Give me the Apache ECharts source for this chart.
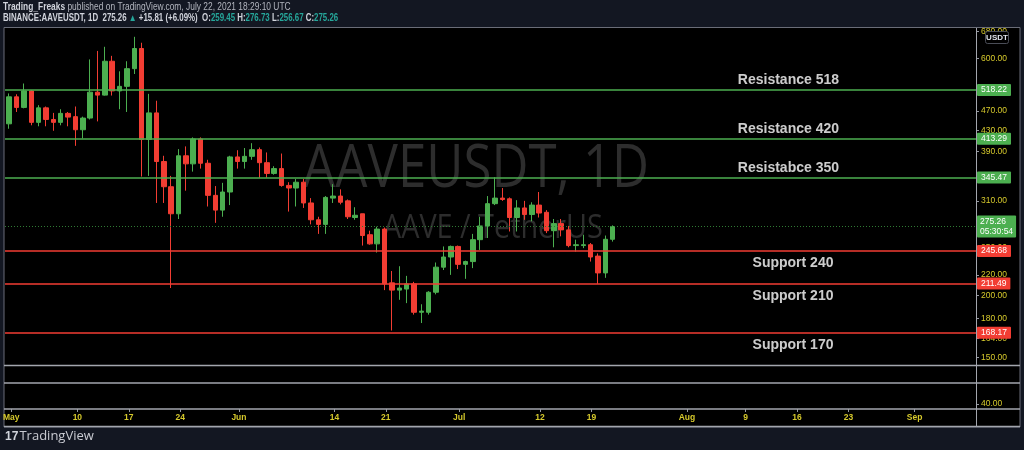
<!DOCTYPE html>
<html><head><meta charset="utf-8">
<script src="https://cdn.jsdelivr.net/npm/echarts@6/dist/echarts.min.js"></script>
<style>html,body{margin:0;padding:0;background:#131722;}#c{width:1024px;height:450px;}</style>
</head><body><div id="c"></div>
<script>
// ---- data (daily candles, BINANCE:AAVEUSDT 1D) ----
const dates = ['2021-05-01','2021-05-02','2021-05-03','2021-05-04','2021-05-05','2021-05-06','2021-05-07','2021-05-08','2021-05-09','2021-05-10',
'2021-05-11','2021-05-12','2021-05-13','2021-05-14','2021-05-15','2021-05-16','2021-05-17','2021-05-18','2021-05-19','2021-05-20',
'2021-05-21','2021-05-22','2021-05-23','2021-05-24','2021-05-25','2021-05-26','2021-05-27','2021-05-28','2021-05-29','2021-05-30',
'2021-05-31','2021-06-01','2021-06-02','2021-06-03','2021-06-04','2021-06-05','2021-06-06','2021-06-07','2021-06-08','2021-06-09',
'2021-06-10','2021-06-11','2021-06-12','2021-06-13','2021-06-14','2021-06-15','2021-06-16','2021-06-17','2021-06-18','2021-06-19',
'2021-06-20','2021-06-21','2021-06-22','2021-06-23','2021-06-24','2021-06-25','2021-06-26','2021-06-27','2021-06-28','2021-06-29',
'2021-06-30','2021-07-01','2021-07-02','2021-07-03','2021-07-04','2021-07-05','2021-07-06','2021-07-07','2021-07-08','2021-07-09',
'2021-07-10','2021-07-11','2021-07-12','2021-07-13','2021-07-14','2021-07-15','2021-07-16','2021-07-17','2021-07-18','2021-07-19',
'2021-07-20','2021-07-21','2021-07-22'];
const opens = [443,502,478,516,446,477,452,446,465,458, 431,455,513,506,592,516,527,572,628,412, 466,372,331,292,382,368,413,369,318,297,
323,380,372,381,393,370,352,360,333,329, 338,307,284,278,314,317,310,287,292,265, 254,272,212,205,206,211,185,185,203,228,
239,251,231,234,259,276,306,314,313,287, 300,291,304,294,270,279,271,252,252,253, 240,222,259.45];
const closes = [502,478,516,446,477,452,446,465,457,431, 455,513,506,592,516,527,572,628,412,466, 372,331,292,382,368,413,369,318,297,323,
380,372,381,393,370,352,360,333,329,338, 307,284,278,315,317,308,288,290,264,254, 272,211,205,207,211,185,186,203,228,239,
251,231,234,259,276,306,314,312,287,300, 291,304,293,270,279,271,252,253,253,239, 222,259.45,275.26];
const highs = [510,508,534,518,483,480,466,474,468,480, 458,597,621,633,607,565,592,663,645,509, 493,382,348,394,399,416,416,375,332,337,
382,392,396,405,397,388,364,386,338,343, 343,314,288,317,335,327,312,301,292,270, 275,274,224,229,219,213,192,204,233,251,
252,252,235,266,288,317,346,329,315,311, 310,308,323,297,285,285,276,259,265,255, 243,264,276.73];
const lows = [433,468,476,440,438,438,429,440,438,400, 414,452,448,505,505,474,468,558,347,348, 307,307,207,285,325,355,360,302,280,288,
304,360,360,375,345,345,350,331,295,302, 300,278,266,266,307,305,285,284,252,253, 244,205,170,196,193,183,176,183,201,225,
220,226,216,227,247,261,304,310,269,269, 284,282,287,267,250,263,250,245,249,234, 211,217,256.67];

const resistanceLevels = [518.22, 413.29, 345.47];
const supportLevels = [245.68, 211.49, 168.17];
const annotationTexts = ['Resistance 518','Resistance 420','Resistabce 350','Support 240','Support 210','Support 170'];
const annotationValues = [518.22, 413.29, 345.47, 245.68, 211.49, 168.17];
const annotationDates = ['2021-08-08','2021-08-08','2021-08-08','2021-08-10','2021-08-10','2021-08-10'];
const lastPrice = 275.26;
const countdown = '05:30:54';
const priceTicks = [680,600,470,430,390,310,250,220,200,180,164,150];
const lowerPaneTicks = [40];
const timeTicks = ['2021-05-01','2021-05-10','2021-05-17','2021-05-24','2021-06-01','2021-06-14','2021-06-21','2021-07-01',
'2021-07-12','2021-07-19','2021-08-01','2021-08-09','2021-08-16','2021-08-23','2021-09-01'];
const monthNames = ['Jan','Feb','Mar','Apr','May','Jun','Jul','Aug','Sep','Oct','Nov','Dec'];

// ---- helpers ----
const t = s => { const p = s.split('-').map(Number); return Date.UTC(p[0], p[1]-1, p[2]); };
const DAY = 86400000;
const xMin = t('2021-05-01') - 0.57 * DAY;
const xMax = t('2021-05-01') + 131.36 * DAY;
const GREEN = '#4caf50', RED = '#f23d33';
const YEL = '#d6c92c';

const candleData = dates.map((d, i) => [t(d), opens[i], closes[i], lows[i], highs[i]]);
const timeLabel = v => { const d = new Date(v); return d.getUTCDate() === 1 ? monthNames[d.getUTCMonth()] : String(d.getUTCDate()); };

const levelLines = [
  ...resistanceLevels.map(v => ({ yAxis: v, lineStyle: { color: GREEN, width: 1.5, type: 'solid' }, label: { backgroundColor: GREEN } })),
  ...supportLevels.map(v => ({ yAxis: v, lineStyle: { color: RED, width: 1.5, type: 'solid' }, label: { backgroundColor: RED } })),
  { yAxis: lastPrice, lineStyle: { color: '#2f7a33', width: 1, type: [1, 2] },
    label: { backgroundColor: GREEN, formatter: lastPrice.toFixed(2) + '\n' + countdown, lineHeight: 10, padding: [1, 3, 1, 3] } }
];

const chart = echarts.init(document.getElementById('c'), null, { renderer: 'canvas' });
chart.setOption({
  backgroundColor: '#131722',
  animation: false,
  grid: [
    { left: 5, top: 28, width: 971, height: 337 },
    { left: 5, top: 383, width: 971, height: 26 }
  ],
  xAxis: [
    { type: 'value', gridIndex: 0, min: xMin, max: xMax, show: false, splitLine: { show: false } },
    { type: 'value', gridIndex: 1, min: xMin, max: xMax, position: 'bottom',
      axisLine: { show: false }, splitLine: { show: false },
      axisTick: { show: true, length: 3, lineStyle: { color: '#9598a1' }, customValues: timeTicks.map(t) },
      axisLabel: { color: YEL, fontSize: 8.5, fontWeight: 'bold', fontFamily: 'Liberation Sans', margin: 4,
        customValues: timeTicks.map(t), formatter: timeLabel, hideOverlap: false } }
  ],
  yAxis: [
    { type: 'log', logBase: 10, gridIndex: 0, position: 'right', min: 144.9, max: 690.6,
      axisLine: { show: false }, splitLine: { show: false },
      axisTick: { show: true, length: 3, lineStyle: { color: '#9598a1' }, customValues: priceTicks },
      axisLabel: { color: YEL, fontSize: 8.5, fontFamily: 'Liberation Sans', margin: 5, customValues: priceTicks,
        formatter: v => Number(v).toFixed(2) } },
    { type: 'value', gridIndex: 1, position: 'right', min: 30, max: 80,
      axisLine: { show: false }, splitLine: { show: false },
      axisTick: { show: true, length: 3, lineStyle: { color: '#9598a1' }, customValues: lowerPaneTicks },
      axisLabel: { color: YEL, fontSize: 8.5, fontFamily: 'Liberation Sans', margin: 5, customValues: lowerPaneTicks,
        formatter: v => Number(v).toFixed(2) } }
  ],
  graphic: [
    { type: 'rect', z: -100, shape: { x: 4, y: 27.5, width: 1016, height: 399.5 },
      style: { fill: '#000', stroke: '#6a6d78', lineWidth: 1 } },
    { type: 'line', z: 100, shape: { x1: 4, y1: 365.5, x2: 1020, y2: 365.5 }, style: { stroke: '#a3a6ae', lineWidth: 1.5 } },
    { type: 'line', z: 100, shape: { x1: 4, y1: 383, x2: 1020, y2: 383 }, style: { stroke: '#a3a6ae', lineWidth: 1.5 } },
    { type: 'line', z: 100, shape: { x1: 4, y1: 409, x2: 1020, y2: 409 }, style: { stroke: '#a3a6ae', lineWidth: 1.5 } },
    { type: 'line', z: 100, shape: { x1: 4, y1: 426.5, x2: 1020, y2: 426.5 }, style: { stroke: '#a3a6ae', lineWidth: 1.5 } },
    { type: 'line', z: 100, shape: { x1: 976.5, y1: 28, x2: 976.5, y2: 427 }, style: { stroke: '#a3a6ae', lineWidth: 1 } },
    { type: 'text', z: -50, x: 303, y: 140, scaleX: 0.85, style: { text: 'AAVEUSDT, 1D', fill: '#2d2d2d', font: '60px "Open Sans"' } },
    { type: 'text', z: -50, x: 383, y: 213, scaleX: 0.9, style: { text: 'AAVE / TetherUS', fill: '#2d2d2d', font: '32px "Open Sans"' } },
    { type: 'rect', z: 200, shape: { x: 985.5, y: 31.5, width: 23, height: 12, r: 2 },
      style: { fill: '#000', stroke: '#4a4d57', lineWidth: 1 } },
    { type: 'text', z: 201, x: 997, y: 37.5, style: { text: 'USDT', fill: '#e0e3eb', font: 'bold 8px "Liberation Sans"', align: 'center', verticalAlign: 'middle' } },
    { type: 'text', z: 10, x: 3, y: 2, scaleX: 0.84, style: {
      text: '{b|Trading_Freaks} published on TradingView.com, July 22, 2021 18:29:10 UTC',
      fill: '#b2b5be', font: '10px "Liberation Sans"',
      rich: { b: { fill: '#d1d4dc', font: 'bold 10px "Liberation Sans"' } } } },
    { type: 'text', z: 10, x: 3, y: 13, scaleX: 0.79, style: {
      text: '{w|BINANCE:AAVEUSDT, 1D  275.26 }{g|▲}{w| +15.81 (+6.09%)  O:}{g|259.45}{w| H:}{g|276.73}{w| L:}{g|256.67}{w| C:}{g|275.26}',
      font: 'bold 10px "Liberation Sans"',
      rich: { w: { fill: '#d1d4dc', font: 'bold 10px "Liberation Sans"' }, g: { fill: '#26a69a', font: 'bold 10px "Liberation Sans"' } } } },
    { type: 'text', z: 10, x: 5, y: 430, style: {
      text: '{l|17}{s| }{t|TradingView}',
      rich: { l: { fill: '#d1d4dc', font: 'bold 12px "Liberation Sans"' }, s: { font: '4px sans-serif' }, t: { fill: '#c9cbd2', font: '13px "Open Sans"' } } } }
  ],
  series: [
    { type: 'candlestick', xAxisIndex: 0, yAxisIndex: 0, barWidth: 5,
      data: candleData,
      itemStyle: { color: GREEN, color0: RED, borderColor: GREEN, borderColor0: RED, borderWidth: 1 },
      markLine: { symbol: 'none', silent: true, animation: false,
        label: { show: true, position: 'end', distance: 1, color: '#fff', fontSize: 8.5, fontFamily: 'Liberation Sans',
          padding: [2, 4, 1, 4], borderRadius: 1, formatter: p => Number(p.value).toFixed(2) },
        data: levelLines } },
    { type: 'scatter', xAxisIndex: 0, yAxisIndex: 0, symbolSize: 1, silent: true,
      itemStyle: { color: 'rgba(0,0,0,0)' },
      data: annotationTexts.map((s, i) => ({ value: [t(annotationDates[i]), annotationValues[i]],
        label: { position: i < 3 ? 'top' : 'bottom', distance: i < 3 ? 2 : 5 } })),
      label: { show: true, align: 'left', color: '#ffffff', fontSize: 14, fontWeight: 'bold', fontFamily: 'Liberation Sans',
        formatter: p => annotationTexts[p.dataIndex] } }
  ]
});
</script></body></html>
